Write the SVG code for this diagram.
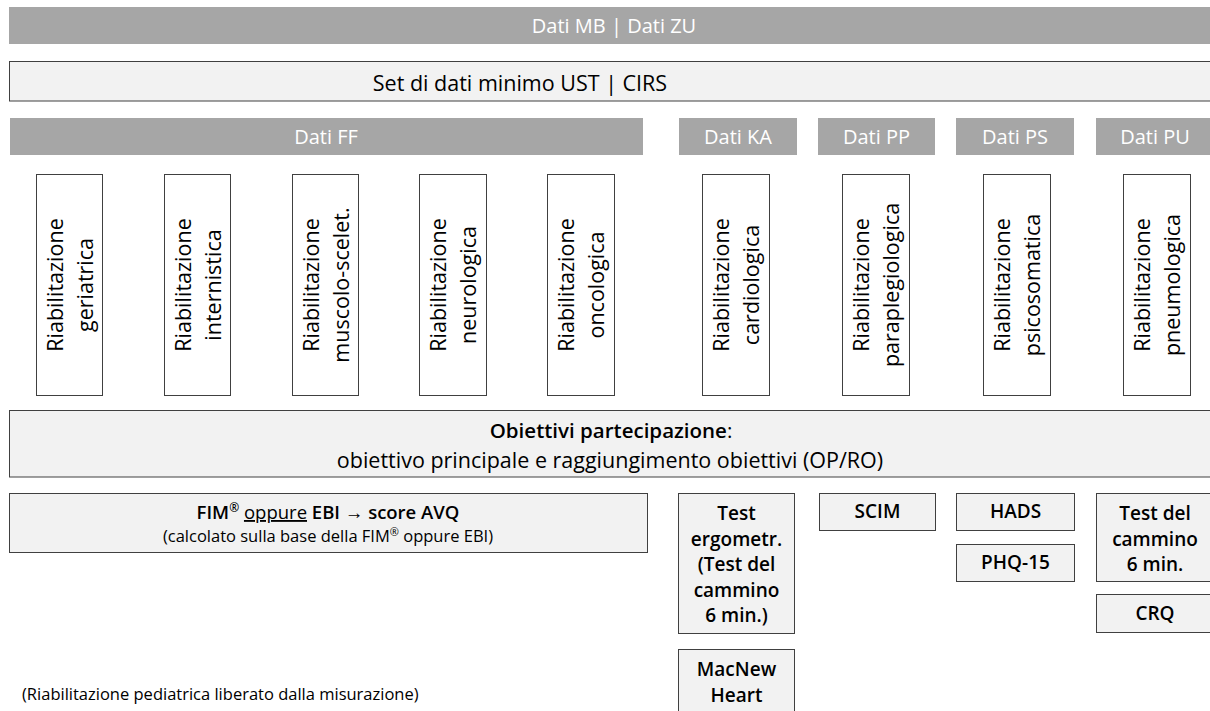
<svg xmlns="http://www.w3.org/2000/svg" width="1210" height="711" viewBox="0 0 1210 711">
<style>
text{font-family:"Open Sans","Noto Sans","Liberation Sans",sans-serif;fill:#000}
.hdr{fill:#a6a6a6}
.hdrt{fill:#fff;font-size:20px;text-anchor:middle}
.light{fill:#f2f2f2;stroke:#404040;stroke-width:1}
.vbox{fill:#fff;stroke:#404040;stroke-width:1}
.vt{font-size:21.5px;text-anchor:middle}
.c{text-anchor:middle}
.b{font-weight:600}
.bt{font-size:19px;font-weight:600;text-anchor:middle}
</style>
<rect width="1210" height="711" fill="#fff"/>
<g id="dati-mb-zu">
<rect class="hdr" x="9" y="7" width="1210" height="37"/>
<text class="hdrt" x="614" y="33">Dati MB | Dati ZU</text>
</g>
<g id="set-minimo">
<rect class="light" x="9.5" y="61.5" width="1210" height="39.5"/>
<text class="c" x="520" y="91" font-size="21.5">Set di dati minimo UST | CIRS</text>
</g>
<g id="dati-ff"><rect class="hdr" x="10" y="118" width="633" height="37"/><text class="hdrt" x="326" y="144">Dati FF</text></g>
<g id="dati-ka"><rect class="hdr" x="679" y="118" width="118" height="37"/><text class="hdrt" x="738" y="144">Dati KA</text></g>
<g id="dati-pp"><rect class="hdr" x="818" y="118" width="117" height="37"/><text class="hdrt" x="876.5" y="144">Dati PP</text></g>
<g id="dati-ps"><rect class="hdr" x="956" y="118" width="118" height="37"/><text class="hdrt" x="1015" y="144">Dati PS</text></g>
<g id="dati-pu"><rect class="hdr" x="1096" y="118" width="118" height="37"/><text class="hdrt" x="1155" y="144">Dati PU</text></g>

<g id="riab-geriatrica"><rect class="vbox" x="36.5" y="174.5" width="66" height="221"/>
<g transform="translate(69.5,285) rotate(-90)"><text class="vt" x="0" y="-7">Riabilitazione</text><text class="vt" x="0" y="23">geriatrica</text></g></g>
<g id="riab-internistica"><rect class="vbox" x="164.5" y="174.5" width="66" height="221"/>
<g transform="translate(197.5,285) rotate(-90)"><text class="vt" x="0" y="-7">Riabilitazione</text><text class="vt" x="0" y="23">internistica</text></g></g>
<g id="riab-muscolo"><rect class="vbox" x="292.5" y="174.5" width="66" height="221"/>
<g transform="translate(325.5,285) rotate(-90)"><text class="vt" x="0" y="-7">Riabilitazione</text><text class="vt" x="0" y="23">muscolo-scelet.</text></g></g>
<g id="riab-neurologica"><rect class="vbox" x="419.5" y="174.5" width="67" height="221"/>
<g transform="translate(453,285) rotate(-90)"><text class="vt" x="0" y="-7">Riabilitazione</text><text class="vt" x="0" y="23">neurologica</text></g></g>
<g id="riab-oncologica"><rect class="vbox" x="547.5" y="174.5" width="67" height="221"/>
<g transform="translate(581,285) rotate(-90)"><text class="vt" x="0" y="-7">Riabilitazione</text><text class="vt" x="0" y="23">oncologica</text></g></g>
<g id="riab-cardiologica"><rect class="vbox" x="702.5" y="174.5" width="67" height="221"/>
<g transform="translate(736,285) rotate(-90)"><text class="vt" x="0" y="-7">Riabilitazione</text><text class="vt" x="0" y="23">cardiologica</text></g></g>
<g id="riab-paraplegiologica"><rect class="vbox" x="842.5" y="174.5" width="67" height="221"/>
<g transform="translate(876,285) rotate(-90)"><text class="vt" x="0" y="-7">Riabilitazione</text><text class="vt" x="0" y="23">paraplegiologica</text></g></g>
<g id="riab-psicosomatica"><rect class="vbox" x="983.5" y="174.5" width="67" height="221"/>
<g transform="translate(1017,285) rotate(-90)"><text class="vt" x="0" y="-7">Riabilitazione</text><text class="vt" x="0" y="23">psicosomatica</text></g></g>
<g id="riab-pneumologica"><rect class="vbox" x="1123.5" y="174.5" width="67" height="221"/>
<g transform="translate(1157,285) rotate(-90)"><text class="vt" x="0" y="-7">Riabilitazione</text><text class="vt" x="0" y="23">pneumologica</text></g></g>

<g id="obiettivi">
<rect class="light" x="9.5" y="410.5" width="1210" height="66.5"/>
<text class="c" x="611" y="438" font-size="20.5"><tspan class="b">Obiettivi partecipazione</tspan>:</text>
<text class="c" x="610" y="468" font-size="21.5">obiettivo principale e raggiungimento obiettivi (OP/RO)</text>
</g>
<g id="fim-ebi">
<rect class="light" x="9.5" y="493.5" width="638" height="59"/>
<text class="c" x="328" y="519" font-size="18.5"><tspan class="b">FIM</tspan><tspan class="b" font-size="12" dy="-7">®</tspan><tspan dy="7"> </tspan><tspan text-decoration="underline">oppure</tspan> <tspan class="b">EBI</tspan> → <tspan class="b">score AVQ</tspan></text>
<text class="c" x="328" y="542" font-size="16.5">(calcolato sulla base della FIM<tspan font-size="11" dy="-6">®</tspan><tspan dy="6"> oppure EBI)</tspan></text>
</g>
<g id="test-ergometr">
<rect class="light" x="678.5" y="493.5" width="116" height="140"/>
<text class="bt" x="736.5" y="520">Test</text>
<text class="bt" x="736.5" y="545.5">ergometr.</text>
<text class="bt" x="736.5" y="571">(Test del</text>
<text class="bt" x="736.5" y="596.5">cammino</text>
<text class="bt" x="736.5" y="622">6 min.)</text>
</g>
<g id="macnew">
<rect class="light" x="678.5" y="649.5" width="116" height="70"/>
<text class="bt" x="736.5" y="676">MacNew</text>
<text class="bt" x="736.5" y="701.5">Heart</text>
</g>
<g id="scim"><rect class="light" x="819.5" y="493.5" width="116" height="37"/><text class="bt" x="877.5" y="518">SCIM</text></g>
<g id="hads"><rect class="light" x="956.5" y="493.5" width="118" height="37"/><text class="bt" x="1015.5" y="518">HADS</text></g>
<g id="phq15"><rect class="light" x="956.5" y="544.5" width="118" height="37"/><text class="bt" x="1015.5" y="569">PHQ-15</text></g>
<g id="test-cammino">
<rect class="light" x="1096.5" y="493.5" width="120" height="88"/>
<text class="bt" x="1155" y="520">Test del</text>
<text class="bt" x="1155" y="545.5">cammino</text>
<text class="bt" x="1155" y="571">6 min.</text>
</g>
<g id="crq"><rect class="light" x="1096.5" y="594.5" width="120" height="38"/><text class="bt" x="1155" y="620">CRQ</text></g>
<g id="connectors"></g>
<text x="22" y="700" font-size="16.5">(Riabilitazione pediatrica liberato dalla misurazione)</text>
</svg>
